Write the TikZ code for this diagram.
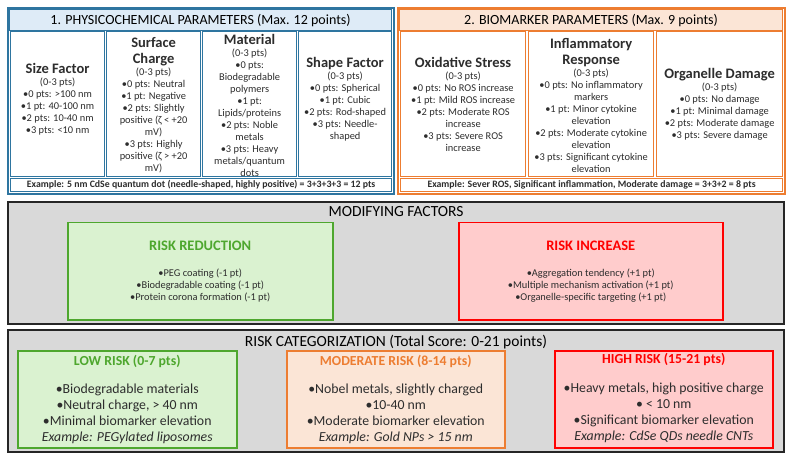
\documentclass[tikz,border=0pt]{standalone}
\usepackage{fontspec}
\setmainfont{Carlito}
\definecolor{physline}{RGB}{46,117,160}
\definecolor{physfill}{RGB}{222,235,247}
\definecolor{bioline}{RGB}{237,125,49}
\definecolor{biofill}{RGB}{251,229,214}
\definecolor{modfill}{RGB}{217,217,217}
\definecolor{modline}{RGB}{38,38,38}
\definecolor{lowline}{RGB}{78,167,46}
\definecolor{lowfill}{RGB}{218,242,208}
\definecolor{highline}{RGB}{255,0,0}
\definecolor{highfill}{RGB}{255,204,204}
\definecolor{bodytext}{RGB}{45,45,45}
\newcommand\ctitle[1]{{\fontsize{14.5}{15}\selectfont\bfseries #1}}
\tikzset{
  outerbox/.style={draw=#1, line width=1.8pt, fill=white, anchor=north west, inner sep=0pt},
  colbox/.style={draw=#1, line width=1.2pt, fill=white, anchor=north west, inner sep=0pt},
  wh/.style 2 args={minimum width=#1pt, minimum height=#2pt},
  coltext/.style={align=center, inner sep=0pt, text=bodytext, font=\fontsize{10.4}{12}\selectfont},
  exampletext/.style={inner sep=0pt, text=bodytext, font=\fontsize{9.8}{10}\selectfont\bfseries},
  headtext/.style={inner sep=0pt, font=\fontsize{14}{17}\selectfont},
  risktext/.style={align=center, inner sep=0pt, text=bodytext, font=\fontsize{13.8}{16}\selectfont}
}
\begin{document}
\begin{tikzpicture}[x=1pt, y=-1pt]
\useasboundingbox (0,0) rectangle (794,462);

% physicochemical parameters
\node[outerbox=physline, wh={386}{186}] (phys) at (7,7) {};
\node[colbox=physline, fill=physfill, wh={382}{21}] (physhead) at (9,9) {};
\node[headtext] (physheadtext) at (physhead.center) {1. PHYSICOCHEMICAL PARAMETERS (Max. 12 points)};
\node[colbox=physline, wh={94}{145}] (sizebox) at (10,31) {};
\node[colbox=physline, wh={94}{145}] (chargebox) at (106,31) {};
\node[colbox=physline, wh={94}{145}] (materialbox) at (202,31) {};
\node[colbox=physline, wh={93}{145}] (shapebox) at (298,31) {};
\node[colbox=physline, wh={381}{13}] (physexample) at (10,178) {};
\node[coltext, yshift=4.5pt] (sizetext) at (sizebox.center)
  {\ctitle{Size Factor}\\(0-3 pts)\\•0 pts: >100 nm\\•1 pt: 40-100 nm\\•2 pts: 10-40 nm\\•3 pts: <10 nm};
\node[coltext, yshift=-1.5pt] (chargetext) at (chargebox.center)
  {\ctitle{Surface}\\[4pt]\ctitle{Charge}\\(0-3 pts)\\•0 pts: Neutral\\•1 pt: Negative\\•2 pts: Slightly\\positive (ζ < +20\\mV)\\•3 pts: Highly\\positive (ζ > +20\\mV)};
\node[coltext, yshift=-1.5pt] (materialtext) at (materialbox.center)
  {\ctitle{Material}\\(0-3 pts)\\•0 pts:\\Biodegradable\\polymers\\•1 pt:\\Lipids/proteins\\•2 pts: Noble\\metals\\•3 pts: Heavy\\metals/quantum\\dots};
\node[coltext, yshift=4.5pt] (shapetext) at (shapebox.center)
  {\ctitle{Shape Factor}\\(0-3 pts)\\•0 pts: Spherical\\•1 pt: Cubic\\•2 pts: Rod-shaped\\•3 pts: Needle-\\shaped};
\node[exampletext] (physexampletext) at (physexample.center)
  {Example: 5 nm CdSe quantum dot (needle-shaped, highly positive) = 3+3+3+3 = 12 pts};

% biomarker parameters
\node[outerbox=bioline, wh={387}{186}] (bio) at (397,7) {};
\node[colbox=bioline, fill=biofill, wh={383}{21}] (biohead) at (399,9) {};
\node[headtext] (bioheadtext) at (biohead.center) {2. BIOMARKER PARAMETERS (Max. 9 points)};
\node[colbox=bioline, wh={125}{145}] (oxbox) at (400,31) {};
\node[colbox=bioline, wh={125}{145}] (inflambox) at (528,31) {};
\node[colbox=bioline, wh={126}{145}] (organbox) at (656,31) {};
\node[colbox=bioline, wh={382}{13}] (bioexample) at (400,178) {};
\node[coltext] (oxtext) at (oxbox.center)
  {\ctitle{Oxidative Stress}\\(0-3 pts)\\•0 pts: No ROS increase\\•1 pt: Mild ROS increase\\•2 pts: Moderate ROS\\increase\\•3 pts: Severe ROS\\increase};
\node[coltext, yshift=-1.5pt] (inflamtext) at (inflambox.center)
  {\ctitle{Inflammatory}\\[4pt]\ctitle{Response}\\(0-3 pts)\\•0 pts: No inflammatory\\markers\\•1 pt: Minor cytokine\\elevation\\•2 pts: Moderate cytokine\\elevation\\•3 pts: Significant cytokine\\elevation};
\node[coltext] (organtext) at (organbox.center)
  {\ctitle{Organelle Damage}\\(0-3 pts)\\•0 pts: No damage\\•1 pt: Minimal damage\\•2 pts: Moderate damage\\•3 pts: Severe damage};
\node[exampletext] (bioexampletext) at (bioexample.center)
  {Example: Sever ROS, Significant inflammation, Moderate damage = 3+3+2 = 8 pts};

% modifying factors
\node[outerbox=modline, fill=modfill, wh={776}{122}] (modify) at (7,201) {};
\node[headtext, font=\fontsize{15.5}{17}\selectfont] (modifytitle) at (396,212) {MODIFYING FACTORS};
\node[colbox=lowline, fill=lowfill, line width=1.5pt, wh={265}{97}] (reduce) at (67,222) {};
\node[colbox=highline, fill=highfill, line width=1.5pt, wh={264}{97}] (increase) at (458,222) {};
\node[coltext, anchor=north] (reducetext) at ([yshift=-19pt]reduce.north)
  {{\fontsize{14.5}{15}\selectfont\bfseries\color{lowline}RISK REDUCTION}\\[14pt]•PEG coating (-1 pt)\\•Biodegradable coating (-1 pt)\\•Protein corona formation (-1 pt)};
\node[coltext, anchor=north] (increasetext) at ([yshift=-19pt]increase.north)
  {{\fontsize{14.5}{15}\selectfont\bfseries\color{highline}RISK INCREASE}\\[14pt]•Aggregation tendency (+1 pt)\\•Multiple mechanism activation (+1 pt)\\•Organelle-specific targeting (+1 pt)};

% risk categorization
\node[outerbox=modline, fill=modfill, wh={776}{122}] (category) at (7,329) {};
\node[headtext, font=\fontsize{15.5}{17}\selectfont] (categorytitle) at (396,342) {RISK CATEGORIZATION (Total Score: 0-21 points)};
\node[colbox=lowline, fill=lowfill, line width=1.5pt, wh={219}{97}] (lowrisk) at (17,350) {};
\node[colbox=bioline, fill=biofill, line width=1.5pt, wh={218}{97}] (modrisk) at (286,350) {};
\node[colbox=highline, fill=highfill, line width=1.5pt, wh={218}{97}] (highrisk) at (554,350) {};
\node[risktext, anchor=north] (lowtext) at ([yshift=-5pt]lowrisk.north)
  {{\fontsize{13.8}{14}\selectfont\bfseries\color{lowline}LOW RISK (0-7 pts)}\\[12pt]•Biodegradable materials\\•Neutral charge, > 40 nm\\•Minimal biomarker elevation\\\textit{Example: PEGylated liposomes}};
\node[risktext, anchor=north] (modtext) at ([yshift=-5pt]modrisk.north)
  {{\fontsize{13.8}{14}\selectfont\bfseries\color{bioline}MODERATE RISK (8-14 pts)}\\[12pt]•Nobel metals, slightly charged\\•10-40 nm\\•Moderate biomarker elevation\\\textit{Example: Gold NPs > 15 nm}};
\node[risktext, anchor=north] (hightext) at ([yshift=-3pt]highrisk.north)
  {{\fontsize{13.8}{14}\selectfont\bfseries\color{highline}HIGH RISK (15-21 pts)}\\[13pt]•Heavy metals, high positive charge\\• < 10 nm\\•Significant biomarker elevation\\\textit{Example: CdSe QDs needle CNTs}};
\end{tikzpicture}
\end{document}
